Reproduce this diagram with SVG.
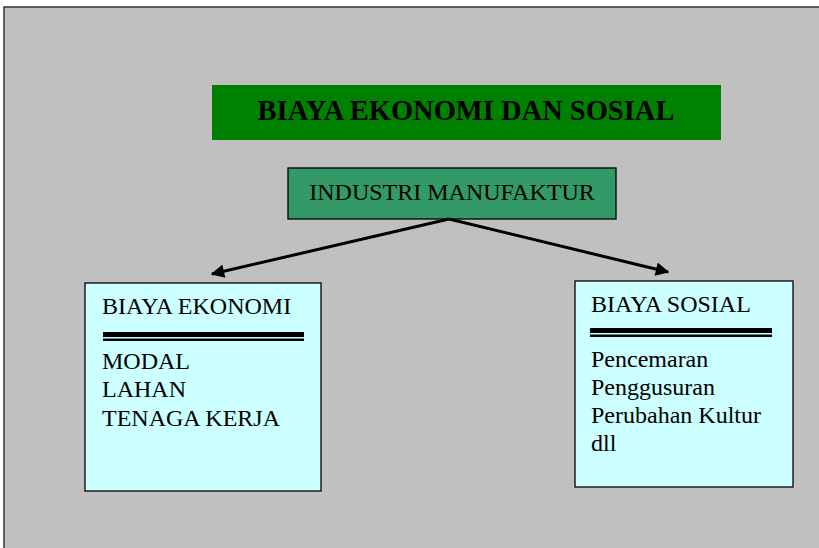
<svg xmlns="http://www.w3.org/2000/svg" width="819" height="548" viewBox="0 0 819 548">
<defs>
<style>
.t{font-family:"Liberation Serif","Times New Roman",serif;fill:#000;font-size:24px}
.box{stroke:#000;stroke-width:1.3}
.con{stroke:#000;stroke-width:3;fill:none}
</style>
<marker id="ah" viewBox="0 0 10 10" refX="9" refY="5" markerWidth="5" markerHeight="4.5" orient="auto" markerUnits="strokeWidth">
<path d="M0,0 L10,5 L0,10 z" fill="#000"/>
</marker>
</defs>
<rect x="0" y="0" width="819" height="548" fill="#fff"/>
<rect x="4" y="7" width="830" height="560" fill="#C0C0C0" stroke="#333" stroke-width="1.5"/>
<g id="title">
<rect x="212" y="85" width="509" height="55" fill="#008000"/>
<text class="t" x="466" y="120" text-anchor="middle" style="font-size:28.5px" font-weight="bold">BIAYA EKONOMI DAN SOSIAL</text>
</g>
<g id="industri">
<rect class="box" x="288" y="168" width="328" height="51" fill="#339966"/>
<text class="t" x="452" y="200" text-anchor="middle">INDUSTRI MANUFAKTUR</text>
</g>
<g id="connectors">
<line class="con" x1="449" y1="219" x2="212" y2="274" marker-end="url(#ah)"/>
<line class="con" x1="449" y1="219" x2="668" y2="272" marker-end="url(#ah)"/>
</g>
<g id="biaya-ekonomi">
<rect class="box" x="85" y="283" width="236" height="208" fill="#CCFFFF"/>
<text class="t" x="102" y="314">BIAYA EKONOMI</text>
<rect x="103" y="332" width="201" height="5" fill="#000"/>
<rect x="103" y="338.5" width="201" height="2.5" fill="#000"/>
<text class="t" x="102" y="369">MODAL</text>
<text class="t" x="102" y="397">LAHAN</text>
<text class="t" x="102" y="426">TENAGA KERJA</text>
</g>
<g id="biaya-sosial">
<rect class="box" x="575" y="281" width="218" height="206" fill="#CCFFFF"/>
<text class="t" x="591" y="312">BIAYA SOSIAL</text>
<rect x="590" y="328" width="182" height="5" fill="#000"/>
<rect x="590" y="334.5" width="182" height="2.5" fill="#000"/>
<text class="t" x="591" y="367">Pencemaran</text>
<text class="t" x="591" y="395">Penggusuran</text>
<text class="t" x="591" y="423">Perubahan Kultur</text>
<text class="t" x="591" y="451">dll</text>
</g>
</svg>
